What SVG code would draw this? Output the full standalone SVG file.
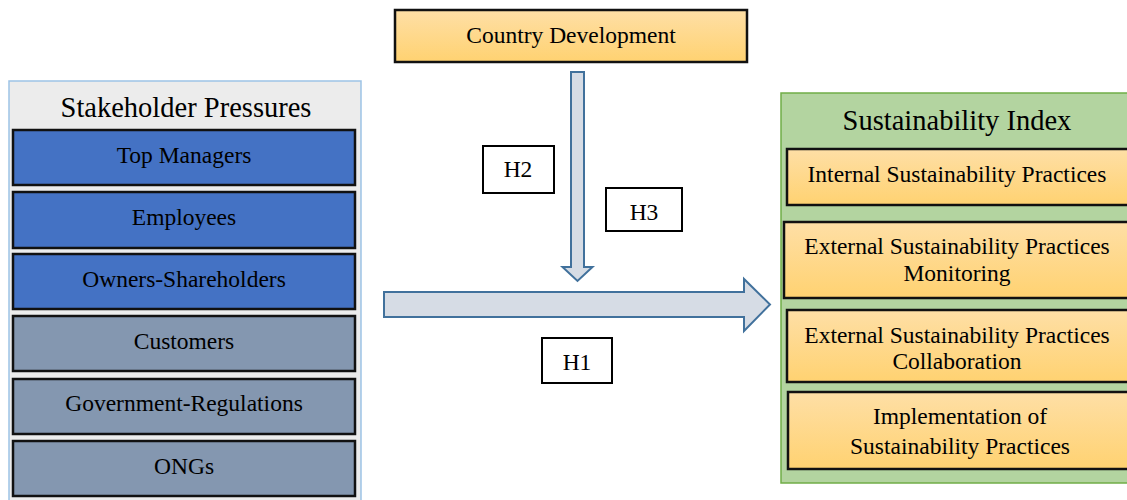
<svg xmlns="http://www.w3.org/2000/svg" width="1127" height="500" viewBox="0 0 1127 500">
<defs>
<linearGradient id="gold" x1="0" y1="0" x2="0" y2="1">
<stop offset="0" stop-color="#fedfa6"/>
<stop offset="1" stop-color="#ffd271"/>
</linearGradient>
<style>
text{font-family:"Liberation Serif",Tinos,"Times New Roman",Times,"DejaVu Serif",serif;fill:#000;text-anchor:middle}
.t{font-size:23.5px}
.title{font-size:28.5px}
.blue{fill:#4472c4;stroke:#111;stroke-width:2.5}
.gray{fill:#8497b0;stroke:#111;stroke-width:2.5}
.gold{fill:url(#gold);stroke:#111;stroke-width:2.5}
.lbl{fill:#fff;stroke:#000;stroke-width:2}
.arrow{fill:#d6dce5;stroke:#41719c;stroke-width:2}
</style>
</defs>
<rect width="1127" height="500" fill="#fff"/>
<g font-family="Liberation Serif, Tinos, Times New Roman, DejaVu Serif, serif">
<g id="stakeholder-pressures">
<rect x="9" y="81" width="352" height="425" fill="#ececec" stroke="#9dc3e6" stroke-width="1.5"/>
<text class="title" x="186" y="117">Stakeholder Pressures</text>
</g>
<g id="top-managers"><rect class="blue" x="13" y="130" width="342" height="55"/><text class="t" x="184" y="163">Top Managers</text></g>
<g id="employees"><rect class="blue" x="13" y="192" width="342" height="56"/><text class="t" x="184" y="225">Employees</text></g>
<g id="owners"><rect class="blue" x="13" y="254" width="342" height="55"/><text class="t" x="184" y="287">Owners-Shareholders</text></g>
<g id="customers"><rect class="gray" x="13" y="316" width="342" height="55"/><text class="t" x="184" y="349">Customers</text></g>
<g id="government"><rect class="gray" x="13" y="379" width="342" height="55"/><text class="t" x="184" y="411">Government-Regulations</text></g>
<g id="ongs"><rect class="gray" x="13" y="441" width="342" height="55"/><text class="t" x="184" y="474">ONGs</text></g>

<g id="country-development"><rect class="gold" x="395" y="10" width="352" height="52"/><text class="t" x="571" y="43">Country Development</text></g>

<g id="sustainability-index">
<rect x="781" y="93" width="360" height="390" fill="#b3d4a0" stroke="#70ad47" stroke-width="1.5"/>
<text class="title" x="957" y="130">Sustainability Index</text>
</g>
<g id="internal"><rect class="gold" x="787" y="149" width="350" height="56"/><text class="t" x="957" y="182">Internal Sustainability Practices</text></g>
<g id="external-monitoring"><rect class="gold" x="784" y="222" width="350" height="76"/><text class="t" x="957" y="254">External Sustainability Practices</text><text class="t" x="957" y="281">Monitoring</text></g>
<g id="external-collaboration"><rect class="gold" x="787" y="310" width="350" height="72"/><text class="t" x="957" y="343">External Sustainability Practices</text><text class="t" x="957" y="369">Collaboration</text></g>
<g id="implementation"><rect class="gold" x="788" y="392" width="350" height="77"/><text class="t" x="960" y="424">Implementation of</text><text class="t" x="960" y="454">Sustainability Practices</text></g>

<g id="connectors">
<path class="arrow" d="M571,72 L584,72 L584,267 L592.5,267 L577.5,281 L562.5,267 L571,267 Z"/>
<path class="arrow" d="M384,292 L744,292 L744,279 L770,304.5 L744,331 L744,317 L384,317 Z"/>
</g>

<g id="h2"><rect class="lbl" x="483" y="146" width="71" height="47"/><text class="t" x="518" y="177">H2</text></g>
<g id="h3"><rect class="lbl" x="606" y="188" width="76" height="43"/><text class="t" x="644" y="220">H3</text></g>
<g id="h1"><rect class="lbl" x="542" y="338" width="70" height="45"/><text class="t" x="577" y="370">H1</text></g>
</g>
</svg>
